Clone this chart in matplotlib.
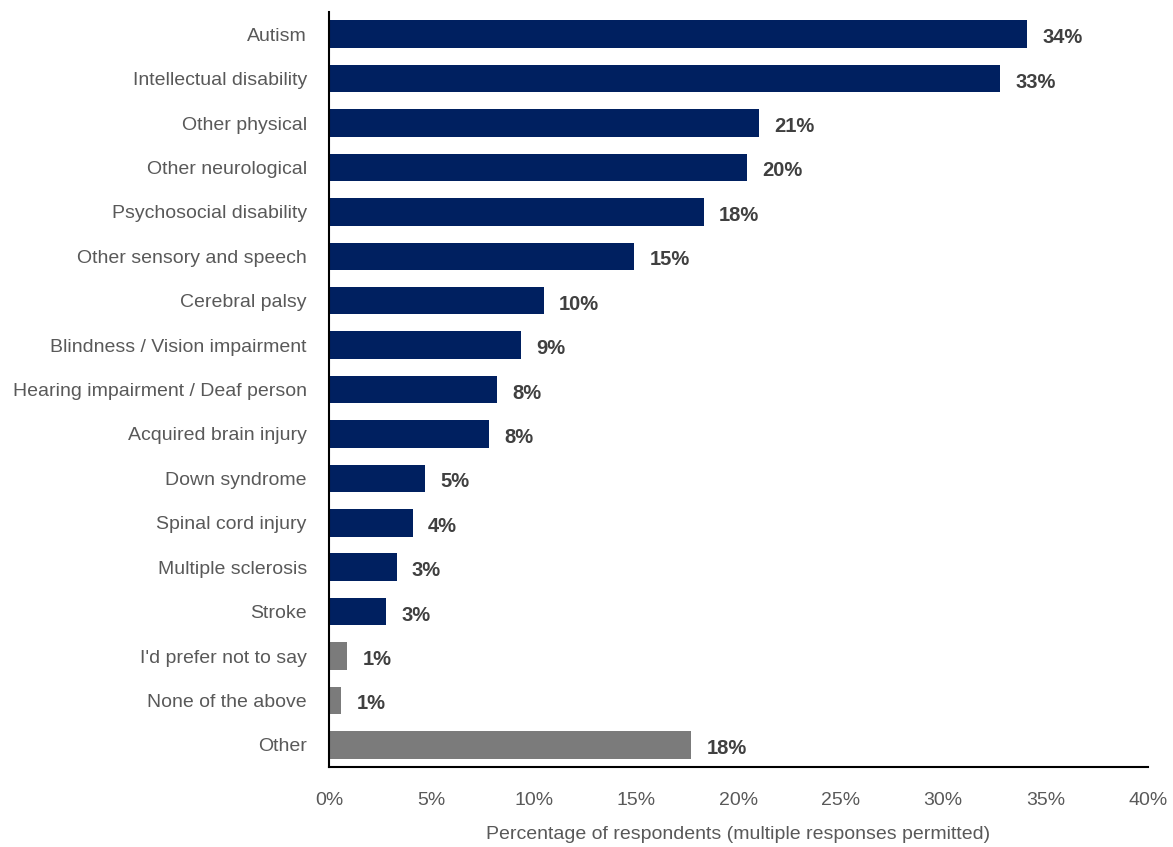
import matplotlib
matplotlib.use("Agg")
import matplotlib.pyplot as plt
from matplotlib import font_manager
from matplotlib.ticker import FuncFormatter

# pick a narrow sans if there is one, otherwise plain Liberation Sans
names = {f.name for f in font_manager.fontManager.ttflist}
family = "Liberation Sans Narrow" if "Liberation Sans Narrow" in names else "Liberation Sans"
plt.rcParams["font.family"] = [family, "DejaVu Sans"]

categories = [
    "Autism", "Intellectual disability", "Other physical", "Other neurological",
    "Psychosocial disability", "Other sensory and speech", "Cerebral palsy",
    "Blindness / Vision impairment", "Hearing impairment / Deaf person",
    "Acquired brain injury", "Down syndrome", "Spinal cord injury",
    "Multiple sclerosis", "Stroke", "I'd prefer not to say",
    "None of the above", "Other",
]
values = [34.1, 32.8, 21.0, 20.4, 18.3, 14.9, 10.5, 9.4, 8.2, 7.8,
          4.7, 4.1, 3.3, 2.8, 0.9, 0.6, 17.7]
labels = ["34%", "33%", "21%", "20%", "18%", "15%", "10%", "9%", "8%", "8%",
          "5%", "4%", "3%", "3%", "1%", "1%", "18%"]
grey_cats = ["I'd prefer not to say", "None of the above", "Other"]

navy = "#002060"
grey = "#7b7b7b"
colors = [grey if c in grey_cats else navy for c in categories]

fig = plt.figure(figsize=(11.73, 8.47), dpi=100)
ax = fig.add_axes([0.2805, 0.0944, 0.698, 0.8914])

y = list(range(len(categories)))
ax.barh(y, values, height=0.62, color=colors)
ax.set_ylim(len(categories) - 0.5, -0.5)
ax.set_xlim(0, 40)

# value labels just past the end of each bar
for yi, v, lab in zip(y, values, labels):
    ax.annotate(lab, (v, yi), xytext=(11, -2.5), textcoords="offset points",
                va="center", ha="left", fontsize=14.5, fontweight="bold",
                color="#404040")

ax.set_yticks(y)
ax.set_yticklabels(categories, fontsize=14, color="#595959")
ax.set_xticks(range(0, 41, 5))
ax.xaxis.set_major_formatter(FuncFormatter(lambda v, p: f"{v:.0f}%"))
ax.tick_params(axis="x", labelsize=14, labelcolor="#595959", length=0, pad=18)
ax.tick_params(axis="y", length=0, pad=16)

ax.set_xlabel("Percentage of respondents (multiple responses permitted)",
              fontsize=14, color="#595959", labelpad=12)

for s in ["top", "right"]:
    ax.spines[s].set_visible(False)
for s in ["left", "bottom"]:
    ax.spines[s].set_linewidth(1.5)
    ax.spines[s].set_color("black")

fig.savefig("out.png", dpi=100)
